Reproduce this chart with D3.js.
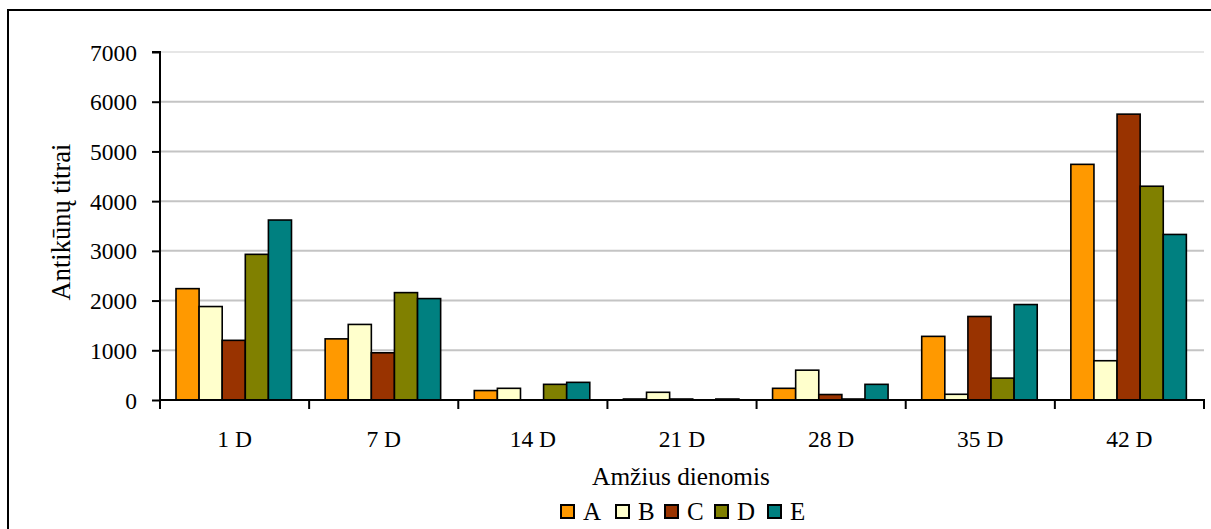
<!DOCTYPE html>
<html><head><meta charset="utf-8">
<script src="https://cdn.jsdelivr.net/npm/d3@7"></script>
</head><body style="margin:0;background:#fff"><svg id="c" width="1211" height="529" style="display:block"></svg>
<script>
const categories = ["1 D","7 D","14 D","21 D","28 D","35 D","42 D"];
const series = ["A","B","C","D","E"];
const valuesA = [2240, 1230, 190, 20, 235, 1280, 4740];
const valuesB = [1880, 1520, 235, 155, 600, 115, 790];
const valuesC = [1200, 950, 0, 20, 110, 1680, 5750];
const valuesD = [2930, 2160, 315, 0, 20, 440, 4300];
const valuesE = [3620, 2040, 355, 20, 315, 1920, 3330];
const yTicks = [0,1000,2000,3000,4000,5000,6000,7000];
const colors = ["#FF9900","#FFFFCC","#993300","#808000","#008080"];
const yTitle = "Antikūnų titrai";
const xTitle = "Amžius dienomis";

const FONT = "Liberation Serif";
const allValues = [valuesA, valuesB, valuesC, valuesD, valuesE];
const svg = d3.select("#c").attr("font-family", FONT).attr("font-size", 23);
const L = 160, R = 1204, T = 52, B = 400;

svg.append("rect").attr("x",8).attr("y",10).attr("width",1215).attr("height",530)
  .attr("fill","none").attr("stroke","#000").attr("stroke-width",2);

const x0 = d3.scaleBand().domain(categories).range([L, R]).padding(0);
const x1 = d3.scaleBand().domain(series).range([16, 131.5]).padding(0);
const y = d3.scaleLinear().domain([0, 7000]).range([B, T]);

svg.append("g").selectAll("line").data(yTicks.filter(d=>d>0)).join("line")
  .attr("x1", L).attr("x2", R).attr("y1", d=>y(d)).attr("y2", d=>y(d))
  .attr("stroke", d=> d===7000 ? "#e6e6e6" : "#c4c4c4").attr("stroke-width", 2);

const g = svg.append("g");
categories.forEach((c, ci) => {
  series.forEach((s, si) => {
    const v = allValues[si][ci];
    if (v <= 0) return;
    g.append("rect")
      .attr("x", x0(c) + x1(s))
      .attr("y", y(v))
      .attr("width", x1.bandwidth())
      .attr("height", B - y(v))
      .attr("fill", colors[si])
      .attr("stroke", "#000").attr("stroke-width", 1.6);
  });
});

const yAxis = d3.axisLeft(y).tickValues(yTicks).tickSize(8).tickPadding(15).tickFormat(d3.format("d"));
const ya = svg.append("g").attr("transform", `translate(${L},0)`).call(yAxis)
  .attr("font-family", FONT).attr("font-size", 23.5);
ya.select(".domain").attr("stroke","#000").attr("stroke-width",2).attr("d", `M-8,${T}H0V${B}`);
ya.selectAll(".tick line").attr("stroke","#000").attr("stroke-width",2);
ya.selectAll(".tick text").attr("dy","0.34em").attr("fill","#000")
  .attr("font-family", FONT).attr("font-size", 23.5);

const xa = svg.append("g").attr("transform", `translate(0,${B})`);
xa.append("line").attr("x1", L).attr("x2", R+1).attr("y1",0).attr("y2",0).attr("stroke","#000").attr("stroke-width",2);
const edges = categories.map(c => x0(c)).concat([R]);
xa.selectAll("line.tk").data(edges).join("line").attr("class","tk")
  .attr("x1", d=>d).attr("x2", d=>d).attr("y1", 0).attr("y2", 9)
  .attr("stroke","#000").attr("stroke-width",2);
xa.selectAll("text").data(categories).join("text")
  .attr("x", d => x0(d) + x0.bandwidth()/2).attr("y", 47)
  .attr("font-family", FONT).attr("font-size", 23.5)
  .attr("text-anchor","middle").text(d=>d);

svg.append("text").attr("transform", `translate(70,222) rotate(-90)`)
  .attr("font-family", FONT).attr("font-size", 26.5)
  .attr("text-anchor","middle").text(yTitle);
svg.append("text").attr("x", 681).attr("y", 485)
  .attr("font-family", FONT).attr("font-size", 25.3)
  .attr("text-anchor","middle").text(xTitle);

const legendX = [560, 615, 664, 714, 767];
const lg = svg.append("g");
series.forEach((s, i) => {
  lg.append("rect").attr("x", legendX[i]+1).attr("y", 505).attr("width", 13).attr("height", 13)
    .attr("fill", colors[i]).attr("stroke","#000").attr("stroke-width",2);
  lg.append("text").attr("x", legendX[i] + 23).attr("y", 520)
    .attr("font-family", FONT).attr("font-size", 25).text(s);
});
</script></body></html>
